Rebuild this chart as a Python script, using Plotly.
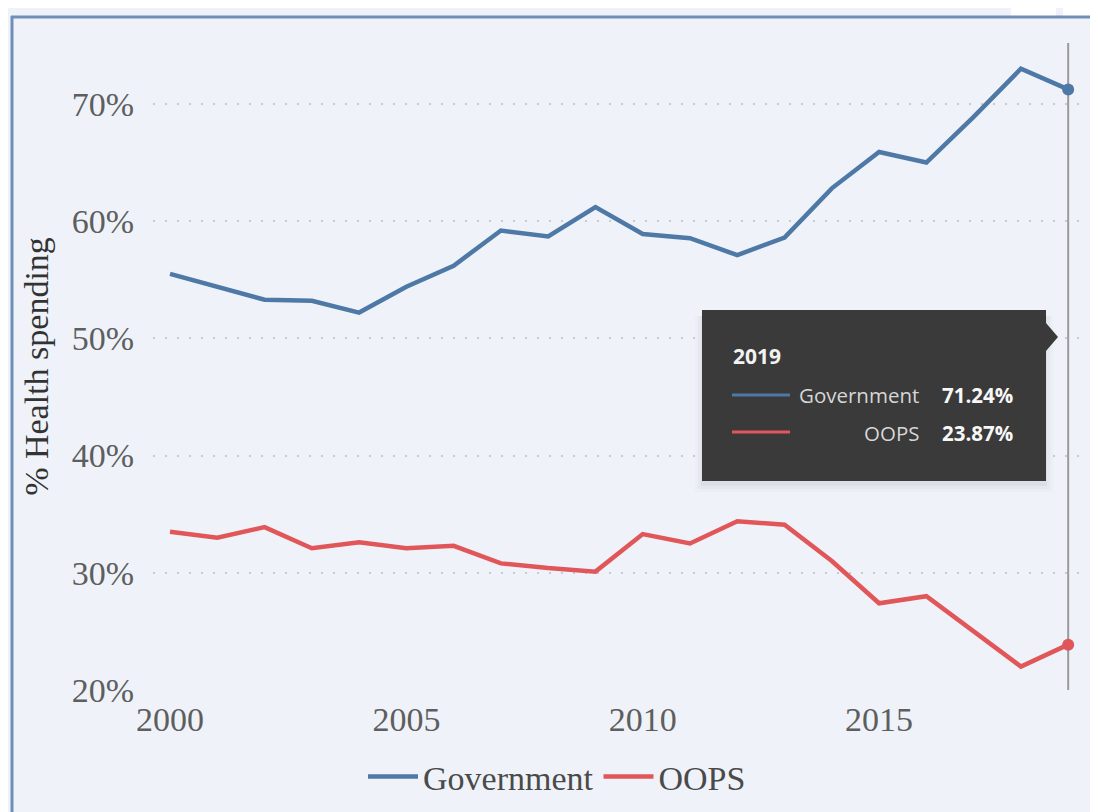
import plotly.graph_objects as go

# ---- data ----
years = list(range(2000, 2020))
government = [55.5, 54.4, 53.3, 53.2, 52.2, 54.4, 56.2, 59.2, 58.7, 61.2,
              58.9, 58.55, 57.1, 58.6, 62.8, 65.9, 65.0, 68.9, 73.0, 71.24]
oops = [33.5, 33.0, 33.9, 32.1, 32.6, 32.1, 32.3, 30.8, 30.4, 30.1,
        33.3, 32.5, 34.4, 34.1, 31.0, 27.4, 28.0, 25.0, 22.0, 23.87]
series_names = ["Government", "OOPS"]
y_ticks = [20, 30, 40, 50, 60, 70]
y_labels = [f"{v}%" for v in y_ticks]
x_ticks = [2000, 2005, 2010, 2015]

# ---- style ----
colors = ["#4E79A7", "#E15759"]
BG = "#EFF3F9"
W, H = 1098, 812
OFF = 8  # page body margin: figure origin sits at screen (8, 8)
# plot area in screen pixels: x 153..1080, y 43..690
ML = 153 - OFF
MT = 43 - OFF
MR = W - (1080 - OFF)
MB = H - (690 - OFF)
PW, PH = W - ML - MR, H - MT - MB


def px(xs):
    return (xs - OFF - ML) / PW


def py(ys):
    return (H - MB - (ys - OFF)) / PH


fig = go.Figure()
for name, vals, col in zip(series_names, [government, oops], colors):
    fig.add_trace(go.Scatter(x=years, y=vals, mode="lines", name=name,
                             line=dict(color=col, width=4.5)))
    fig.add_trace(go.Scatter(x=years[-1:], y=vals[-1:], mode="markers",
                             showlegend=False, hoverinfo="skip",
                             marker=dict(color=col, size=12)))

shapes = []
# page frame
shapes += [
    dict(type="rect", xref="paper", yref="paper", x0=px(1011), x1=px(1056), y0=py(0), y1=py(16),
         fillcolor="white", line_width=0, layer="below"),
    dict(type="rect", xref="paper", yref="paper", x0=px(1063), x1=px(W + 20), y0=py(0), y1=py(16),
         fillcolor="white", line_width=0, layer="below"),
    dict(type="line", xref="paper", yref="paper", x0=px(11), x1=px(W + 20), y0=py(17), y1=py(17),
         line=dict(color="#6F8FBA", width=3), layer="below"),
    dict(type="line", xref="paper", yref="paper", x0=px(12), x1=px(12), y0=py(16), y1=py(H + 20),
         line=dict(color="#6F8FBA", width=3), layer="below"),
]
# spike line at the last year
shapes.append(dict(type="line", xref="x", yref="paper", x0=years[-1], x1=years[-1],
                   y0=0, y1=1, line=dict(color="#9A9A9A", width=2), layer="below"))

# tooltip
tx0, tx1, ty0, ty1 = 702, 1046, 310, 481
for i, op in enumerate([0.035, 0.025, 0.015]):
    d = 2 + 3 * i
    shapes.append(dict(type="rect", xref="paper", yref="paper",
                       x0=px(tx0 - d + 1), x1=px(tx1 + d - 1), y0=py(ty1 + d + 3), y1=py(ty0 + 6),
                       fillcolor="black", opacity=op, line_width=0, layer="above"))
shapes.append(dict(type="rect", xref="paper", yref="paper",
                   x0=px(tx0), x1=px(tx1), y0=py(ty1), y1=py(ty0),
                   fillcolor="#3A3A3A", line_width=0, layer="above"))
shapes.append(dict(type="path", xref="paper", yref="paper",
                   path=f"M {px(tx1)},{py(323)} L {px(1058)},{py(337)} L {px(tx1)},{py(351)} Z",
                   fillcolor="#3A3A3A", line_width=0, layer="above"))
for col, yy in zip(colors, [395, 432]):
    shapes.append(dict(type="line", xref="paper", yref="paper",
                       x0=px(732), x1=px(790), y0=py(yy), y1=py(yy),
                       line=dict(color=col, width=3), layer="above"))

annotations = [
    dict(xref="paper", yref="paper", x=px(731), y=py(356), text=f"<b>{years[-1]}</b>",
         showarrow=False, xanchor="left", yanchor="middle",
         font=dict(family="Open Sans", size=21, color="#F2F2F2")),
]
for name, vals, yy in zip(series_names, [government, oops], [395, 433]):
    annotations.append(dict(xref="paper", yref="paper", x=px(921), y=py(yy), text=name,
                            showarrow=False, xanchor="right", yanchor="middle",
                            font=dict(family="Open Sans", size=20.5, color="#D6D6D6")))
    annotations.append(dict(xref="paper", yref="paper", x=px(940), y=py(yy),
                            text=f"<b>{vals[-1]:.2f}%</b>",
                            showarrow=False, xanchor="left", yanchor="middle",
                            font=dict(family="Open Sans", size=20.5, color="#F7F7F7")))

fig.update_layout(
    width=W, height=H,
    margin=dict(l=ML, r=MR, t=MT, b=MB, pad=0),
    paper_bgcolor=BG, plot_bgcolor=BG,
    font=dict(family="Liberation Serif", color="#5E5E5E", size=34),
    showlegend=True,
    legend=dict(orientation="h", x=px(557), xanchor="center", y=py(777), yanchor="middle",
                font=dict(family="Liberation Serif", size=34, color="#4A4A4A"),
                bgcolor="rgba(0,0,0,0)", itemwidth=50, entrywidthmode="pixels"),
    shapes=shapes,
    annotations=annotations,
    xaxis=dict(range=[1999.64, 2019.25], tickvals=x_ticks, showgrid=False,
               zeroline=False, showline=False, ticks="", ticklabelstandoff=6,
               tickfont=dict(size=34, color="#5E5E5E")),
    yaxis=dict(range=[20, 75.2], tickvals=y_ticks, ticktext=y_labels,
               showgrid=True, gridcolor="#C6CBD2", griddash="2px,10px", gridwidth=2,
               zeroline=False, showline=False, ticks="", ticklabelstandoff=18,
               tickfont=dict(size=34, color="#5E5E5E"),
               title=dict(text="% Health spending", standoff=12,
                          font=dict(size=34, color="#333333"))),
)

fig.write_html("out.html")
